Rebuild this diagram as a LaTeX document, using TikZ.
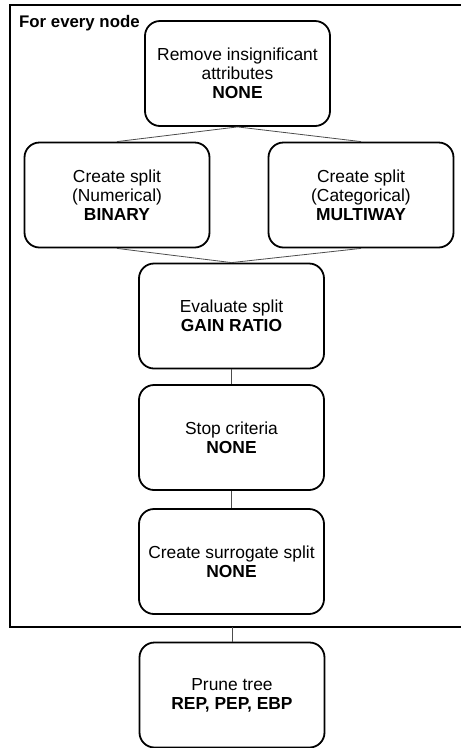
\documentclass[tikz,border=0pt]{standalone}
\usepackage{fontspec}
\setmainfont{Liberation Sans}
\begin{document}
\begin{tikzpicture}[x=1pt,y=-1pt,
  stepbox/.style={draw=black, line width=1.8pt, rounded corners=15pt,
    minimum width=185pt, minimum height=105pt, inner sep=0pt,
    align=center, font=\fontsize{17.4}{18.8}\selectfont},
  link/.style={draw=black!70, line width=0.8pt},
  frame/.style={draw=black, line width=2pt}]
\useasboundingbox (0,0) rectangle (461,748);

% enclosing frame (open on the right, it runs past the edge)
\draw[frame] (461.5,5) -- (10,5) -- (10,627) -- (461.5,627);
\node[anchor=base west, font=\fontsize{16.8}{18}\selectfont\bfseries, inner sep=0pt]
  (title) at (19,27) {For every node};

% steps
\node[stepbox] (remove) at (237.5,73.5) {Remove insignificant\\attributes\\\textbf{NONE}};
\node[stepbox] (num) at (117,195) {Create split\\(Numerical)\\\textbf{BINARY}};
\node[stepbox] (cat) at (361,195) {Create split\\(Categorical)\\\textbf{MULTIWAY}};
\node[stepbox] (eval) at (231.5,316) {Evaluate split\\\textbf{GAIN RATIO}};
\node[stepbox] (stop) at (231.5,437.5) {Stop criteria\\\textbf{NONE}};
\node[stepbox] (surr) at (231.5,561.5) {Create surrogate split\\\textbf{NONE}};
\node[stepbox] (prune) at (232,695) {Prune tree\\\textbf{REP, PEP, EBP}};

% connectors
\coordinate (fb) at (232,627);
\draw[link] (remove.south) -- (num.north);
\draw[link] (remove.south) -- (cat.north);
\draw[link] (num.south) -- (eval.north);
\draw[link] (cat.south) -- (eval.north);
\draw[link] (eval) -- (stop);
\draw[link] (stop) -- (surr);
\draw[link] (fb) -- (prune.north);
\end{tikzpicture}
\end{document}
